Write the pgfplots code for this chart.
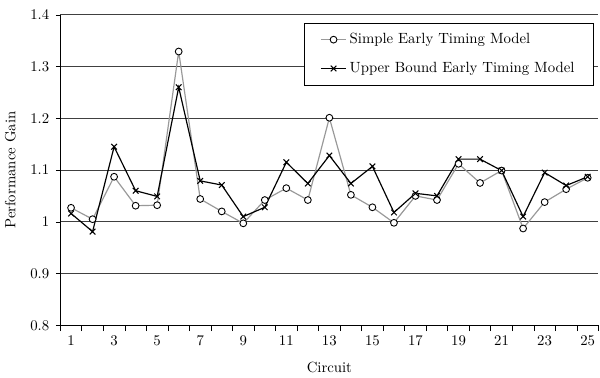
\documentclass[border=0pt]{standalone}
\usepackage{pgfplots}
\pgfplotsset{compat=1.18}
\begin{document}
\begin{tikzpicture}
\begin{axis}[
  scale only axis,
  width=364pt, height=210pt,
  xmin=0.5, xmax=25.5,
  ymin=0.8, ymax=1.4,
  axis x line=bottom, axis y line=left,
  axis line style={-, black, line width=0.6pt},
  xtick={1,3,...,25},
  major x tick style={draw=none},
  minor xtick={0.5,1.5,...,25.5},
  minor x tick style={black, line width=0.5pt},
  minor tick length=4pt,
  xtick align=outside,
  ytick={0.8,0.9,...,1.41},
  ytick align=outside,
  major y tick style={black},
  major tick length=3pt,
  yticklabel style={/pgf/number format/fixed, /pgf/number format/precision=1, xshift=-1pt},
  xticklabel style={yshift=-1pt},
  ymajorgrids,
  grid style={black!75, line width=0.6pt},
  xlabel={Circuit}, ylabel={Performance Gain},
  xlabel style={yshift=-4pt},
  ylabel style={yshift=3pt},
  tick label style={font=\normalsize},
  legend style={at={(rel axis cs:0.992,0.975)}, anchor=north east, draw=black, line width=0.6pt,
    row sep=7pt, inner ysep=5pt, inner xsep=11pt, cells={anchor=west}},
  legend cell align=left,
  clip=false,
]
\addplot[gray!80, line width=0.8pt, mark=*, mark size=2.3pt, mark options={draw=black, fill=white, line width=0.6pt}] coordinates {
(1,1.027)(2,1.005)(3,1.087)(4,1.031)(5,1.032)(6,1.329)(7,1.044)(8,1.020)(9,0.997)(10,1.042)
(11,1.065)(12,1.042)(13,1.201)(14,1.052)(15,1.028)(16,0.998)(17,1.050)(18,1.042)(19,1.112)(20,1.075)
(21,1.099)(22,0.987)(23,1.038)(24,1.063)(25,1.085)};
\addlegendentry{Simple Early Timing Model}
\addplot[black, line width=0.8pt, mark=x, mark size=2.7pt, mark options={black, line width=0.7pt}] coordinates {
(1,1.016)(2,0.981)(3,1.145)(4,1.060)(5,1.049)(6,1.260)(7,1.079)(8,1.071)(9,1.010)(10,1.028)
(11,1.115)(12,1.074)(13,1.128)(14,1.074)(15,1.107)(16,1.018)(17,1.055)(18,1.050)(19,1.121)(20,1.121)
(21,1.099)(22,1.010)(23,1.095)(24,1.070)(25,1.087)};
\addlegendentry{Upper Bound Early Timing Model}
\end{axis}
\path (current axis.north) ++(0pt,10pt);
\end{tikzpicture}
\end{document}
